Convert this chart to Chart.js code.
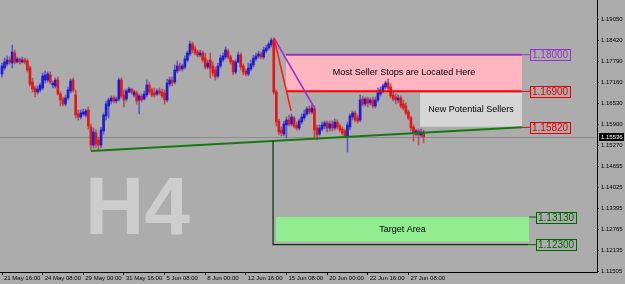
<!DOCTYPE html>
<html>
<head>
<meta charset="utf-8">
<script src="https://cdn.jsdelivr.net/npm/chart.js@4.4.1/dist/chart.umd.min.js"></script>
<style>
  html, body { margin: 0; padding: 0; background: #acacac; }
  #wrap { width: 625px; height: 284px; position: relative; }
</style>
</head>
<body>
<div id="wrap"><canvas id="c"></canvas></div>
<script>
'use strict';

// ── Data: EURUSD H4, bar index 0 = 21 May 16:00 ─────────
const xTickIdx    = [0, 16, 32, 48, 64, 80, 96, 112, 128, 144, 160];
const xTickLabels = ['21 May 16:00', '24 May 08:00', '29 May 00:00', '31 May 16:00', '5 Jun 08:00',
                     '8 Jun 00:00', '12 Jun 16:00', '15 Jun 08:00', '20 Jun 00:00', '22 Jun 16:00', '27 Jun 08:00'];
const yTicks = [1.19050, 1.18420, 1.17790, 1.17160, 1.16530, 1.15900, 1.15270,
                1.14655, 1.14025, 1.13395, 1.12765, 1.12135, 1.11505];

const opens = [
  1.1742,1.1760,1.1772,1.1784,1.1775,1.1805,1.1778,1.1787,1.1778,1.1784,
  1.1781,1.1760,1.1718,1.1700,1.1688,1.1694,1.1700,1.1724,1.1724,1.1739,
  1.1709,1.1706,1.1724,1.1682,1.1667,1.1652,1.1670,1.1691,1.1724,1.1679,
  1.1622,1.1613,1.1622,1.1619,1.1634,1.1583,1.1529,1.1565,1.1544,1.1529,
  1.1571,1.1616,1.1646,1.1661,1.1670,1.1661,1.1667,1.1724,1.1679,1.1667,
  1.1688,1.1697,1.1679,1.1685,1.1664,1.1676,1.1667,1.1679,1.1709,1.1694,
  1.1685,1.1682,1.1691,1.1688,1.1685,1.1664,1.1712,1.1724,1.1718,1.1751,
  1.1766,1.1757,1.1763,1.1784,1.1802,1.1832,1.1817,1.1808,1.1799,1.1805,
  1.1790,1.1763,1.1784,1.1766,1.1754,1.1736,1.1766,1.1784,1.1793,1.1811,
  1.1793,1.1781,1.1748,1.1778,1.1799,1.1766,1.1751,1.1742,1.1757,1.1769,
  1.1787,1.1796,1.1802,1.1793,1.1811,1.1820,1.1829,1.1844,1.1688,1.1601,
  1.1574,1.1562,1.1589,1.1604,1.1592,1.1610,1.1589,1.1580,1.1598,1.1610,
  1.1622,1.1637,1.1628,1.1637,1.1580,1.1562,1.1577,1.1586,1.1595,1.1580,
  1.1592,1.1580,1.1598,1.1586,1.1577,1.1571,1.1556,1.1583,1.1613,1.1625,
  1.1610,1.1604,1.1667,1.1652,1.1667,1.1655,1.1664,1.1646,1.1664,1.1682,
  1.1691,1.1703,1.1715,1.1703,1.1679,1.1673,1.1664,1.1670,1.1652,1.1646,
  1.1628,1.1610,1.1583,1.1562,1.1571,1.1559,1.1568
];
const highs = [
  1.1775,1.1790,1.1796,1.1793,1.1829,1.1814,1.1793,1.1790,1.1793,1.1790,
  1.1787,1.1766,1.1730,1.1706,1.1706,1.1715,1.1745,1.1751,1.1748,1.1748,
  1.1721,1.1730,1.1733,1.1688,1.1673,1.1679,1.1703,1.1727,1.1730,1.1694,
  1.1634,1.1634,1.1637,1.1637,1.1643,1.1592,1.1580,1.1574,1.1553,1.1583,
  1.1625,1.1661,1.1670,1.1676,1.1676,1.1673,1.1730,1.1730,1.1694,1.1697,
  1.1703,1.1700,1.1694,1.1691,1.1682,1.1682,1.1691,1.1724,1.1718,1.1700,
  1.1700,1.1697,1.1700,1.1697,1.1694,1.1727,1.1733,1.1733,1.1769,1.1781,
  1.1775,1.1772,1.1796,1.1811,1.1841,1.1838,1.1826,1.1814,1.1814,1.1811,
  1.1805,1.1784,1.1805,1.1778,1.1763,1.1775,1.1799,1.1805,1.1823,1.1817,
  1.1799,1.1784,1.1784,1.1808,1.1805,1.1772,1.1757,1.1775,1.1784,1.1799,
  1.1805,1.1811,1.1808,1.1823,1.1829,1.1838,1.1850,1.1850,1.1694,1.1607,
  1.1583,1.1601,1.1613,1.1619,1.1622,1.1616,1.1598,1.1607,1.1622,1.1634,
  1.1643,1.1646,1.1649,1.1646,1.1589,1.1589,1.1598,1.1601,1.1601,1.1601,
  1.1601,1.1607,1.1604,1.1592,1.1583,1.1577,1.1598,1.1622,1.1631,1.1631,
  1.1619,1.1679,1.1676,1.1673,1.1673,1.1670,1.1673,1.1673,1.1700,1.1703,
  1.1712,1.1721,1.1727,1.1712,1.1688,1.1682,1.1679,1.1676,1.1664,1.1655,
  1.1634,1.1616,1.1589,1.1577,1.1577,1.1577,1.1574
];
const lows = [
  1.1733,1.1754,1.1766,1.1772,1.1760,1.1772,1.1775,1.1772,1.1775,1.1772,
  1.1748,1.1706,1.1688,1.1673,1.1682,1.1688,1.1694,1.1715,1.1718,1.1712,
  1.1700,1.1700,1.1679,1.1646,1.1646,1.1646,1.1664,1.1685,1.1688,1.1610,
  1.1604,1.1607,1.1616,1.1613,1.1577,1.1514,1.1520,1.1520,1.1514,1.1520,
  1.1562,1.1604,1.1610,1.1652,1.1655,1.1655,1.1661,1.1670,1.1643,1.1661,
  1.1685,1.1682,1.1673,1.1652,1.1622,1.1658,1.1664,1.1673,1.1682,1.1673,
  1.1673,1.1676,1.1679,1.1670,1.1652,1.1658,1.1706,1.1706,1.1712,1.1745,
  1.1751,1.1751,1.1757,1.1778,1.1796,1.1805,1.1799,1.1793,1.1793,1.1778,
  1.1757,1.1757,1.1730,1.1736,1.1724,1.1730,1.1760,1.1778,1.1787,1.1787,
  1.1772,1.1739,1.1742,1.1775,1.1754,1.1739,1.1736,1.1736,1.1751,1.1763,
  1.1781,1.1790,1.1787,1.1787,1.1805,1.1814,1.1823,1.1682,1.1586,1.1559,
  1.1556,1.1556,1.1550,1.1586,1.1586,1.1580,1.1574,1.1574,1.1592,1.1604,
  1.1616,1.1622,1.1622,1.1550,1.1544,1.1556,1.1571,1.1577,1.1568,1.1571,
  1.1571,1.1574,1.1577,1.1568,1.1559,1.1550,1.1508,1.1574,1.1604,1.1598,
  1.1595,1.1598,1.1646,1.1646,1.1643,1.1649,1.1640,1.1640,1.1658,1.1676,
  1.1685,1.1697,1.1694,1.1670,1.1661,1.1652,1.1655,1.1640,1.1634,1.1619,
  1.1604,1.1571,1.1541,1.1556,1.1529,1.1553,1.1535
];
const closes = [
  1.1766,1.1778,1.1784,1.1778,1.1808,1.1778,1.1787,1.1778,1.1784,1.1778,
  1.1754,1.1712,1.1697,1.1688,1.1697,1.1709,1.1736,1.1739,1.1742,1.1718,
  1.1715,1.1724,1.1682,1.1664,1.1652,1.1670,1.1694,1.1721,1.1694,1.1619,
  1.1613,1.1625,1.1628,1.1631,1.1586,1.1529,1.1568,1.1532,1.1529,1.1574,
  1.1619,1.1652,1.1664,1.1670,1.1661,1.1667,1.1724,1.1676,1.1664,1.1691,
  1.1697,1.1688,1.1688,1.1661,1.1676,1.1664,1.1682,1.1709,1.1688,1.1679,
  1.1679,1.1691,1.1685,1.1676,1.1664,1.1715,1.1724,1.1715,1.1754,1.1766,
  1.1757,1.1766,1.1787,1.1805,1.1832,1.1814,1.1805,1.1799,1.1805,1.1784,
  1.1763,1.1775,1.1760,1.1745,1.1733,1.1766,1.1790,1.1796,1.1814,1.1793,
  1.1778,1.1748,1.1778,1.1799,1.1763,1.1748,1.1742,1.1760,1.1772,1.1790,
  1.1796,1.1802,1.1793,1.1814,1.1820,1.1832,1.1844,1.1688,1.1598,1.1568,
  1.1565,1.1592,1.1604,1.1592,1.1613,1.1586,1.1580,1.1601,1.1613,1.1622,
  1.1637,1.1628,1.1640,1.1574,1.1559,1.1580,1.1589,1.1595,1.1580,1.1592,
  1.1580,1.1598,1.1583,1.1574,1.1565,1.1556,1.1589,1.1616,1.1625,1.1604,
  1.1601,1.1664,1.1652,1.1667,1.1655,1.1664,1.1646,1.1664,1.1685,1.1694,
  1.1706,1.1715,1.1700,1.1676,1.1667,1.1664,1.1670,1.1646,1.1640,1.1625,
  1.1610,1.1580,1.1565,1.1571,1.1559,1.1568,1.15536
];
const lastPrice = 1.15536;

// ── Drawn objects (x = bar index, y = price) ────────────
const stopZone   = { x0: 111.8, x1: 204.7, top: 1.18000, bot: 1.16900, text: 'Most Seller Stops are Located Here' };
const sellerBox  = { x0: 164.6, x1: 204.7, top: 1.1686,  bot: 1.1584,  text: 'New Potential Sellers' };
const targetZone = { x0: 107.9, x1: 207.5, top: 1.13130, bot: 1.1239,  text: 'Target Area' };
const trendLine  = [[35.0, 1.1511], [204.7, 1.1582]];
const dropPurple = [[107.1, 1.1850], [122.8, 1.1643]];
const dropRed    = [[107.1, 1.1850], [113.8, 1.1631]];
const targetLeg  = [[106.7, 1.1541], [106.7, 1.12300], [207.1, 1.12300]];
const levelTags  = [
  { text: '1.18000', price: 1.18000, from: 204.7, at: 207.9, color: '#9932cc' },
  { text: '1.16900', price: 1.16900, from: 204.7, at: 207.9, color: '#e80000' },
  { text: '1.15820', price: 1.15820, from: 204.7, at: 207.9, color: '#e80000' },
  { text: '1.13130', price: 1.13130, from: 207.5, at: 210.2, color: '#006400' },
  { text: '1.12300', price: 1.12300, from: 207.1, at: 210.2, color: '#006400' },
];

const BULL = '#1c1cd8', BEAR = '#e01818';
const BULL_WICK = '#5c5cc8', BEAR_WICK = '#c44c4c';
const isBull = i => closes[i] >= opens[i];

// ── Overlay plugin ──────────────────────────────────────
function line(ctx, pts, color, width) {
  ctx.save();
  ctx.strokeStyle = color; ctx.lineWidth = width;
  ctx.beginPath();
  pts.forEach(([x, y], k) => (k ? ctx.lineTo(x, y) : ctx.moveTo(x, y)));
  ctx.stroke();
  ctx.restore();
}

const overlay = {
  id: 'overlay',
  beforeDatasetsDraw(chart) {
    const { ctx, chartArea: a, scales: { x, y } } = chart;
    ctx.save();
    ctx.beginPath(); ctx.rect(a.left, a.top, a.right - a.left, a.bottom - a.top); ctx.clip();

    // watermark
    ctx.fillStyle = '#cdcdcd';
    ctx.font = 'bold 82px "Liberation Sans", Arial, sans-serif';
    ctx.textBaseline = 'alphabetic';
    ctx.fillText('H4', a.left + 85, a.top + 234);

    // current price line
    const yp = Math.round(y.getPixelForValue(lastPrice)) + 0.5;
    line(ctx, [[a.left, yp], [a.right, yp]], '#8c8c8c', 1);

    // zones
    const rect = (z, fill) => {
      const x0 = x.getPixelForValue(z.x0), x1 = x.getPixelForValue(z.x1);
      const y0 = y.getPixelForValue(z.top), y1 = y.getPixelForValue(z.bot);
      ctx.fillStyle = fill;
      ctx.fillRect(x0, y0, x1 - x0, y1 - y0);
    };
    rect(stopZone, '#ffb6c1');
    rect(sellerBox, '#d6d6d6');
    rect(targetZone, '#90ee90');
    ctx.restore();
  },
  afterDatasetsDraw(chart) {
    const { ctx, scales: { x, y } } = chart;
    const P = ([i, p]) => [x.getPixelForValue(i), y.getPixelForValue(p)];

    // zone edges
    line(ctx, [[stopZone.x0, stopZone.top], [stopZone.x1, stopZone.top]].map(P), '#9932cc', 2);
    line(ctx, [[stopZone.x0, stopZone.bot], [stopZone.x1, stopZone.bot]].map(P), '#ff0000', 2);

    line(ctx, trendLine.map(P), '#137a13', 2);
    line(ctx, dropPurple.map(P), '#9932cc', 1.5);
    line(ctx, dropRed.map(P), '#ff1a1a', 1.5);
    line(ctx, targetLeg.map(P), '#0c2e0c', 1.2);

    // zone captions
    ctx.save();
    ctx.fillStyle = '#000';
    ctx.font = '9px "Liberation Sans", Arial, sans-serif';
    ctx.textAlign = 'center'; ctx.textBaseline = 'middle';
    [stopZone, sellerBox, targetZone].forEach(z => {
      const cx = (x.getPixelForValue(z.x0) + x.getPixelForValue(z.x1)) / 2;
      const cy = (y.getPixelForValue(z.top) + y.getPixelForValue(z.bot)) / 2;
      ctx.fillText(z.text, cx, cy);
    });
    ctx.restore();

    // level tags
    ctx.save();
    ctx.font = '10px "Liberation Sans", Arial, sans-serif';
    ctx.textBaseline = 'middle'; ctx.textAlign = 'left';
    levelTags.forEach(t => {
      const yp = y.getPixelForValue(t.price);
      const xf = x.getPixelForValue(t.from), xb = Math.round(x.getPixelForValue(t.at));
      line(ctx, [[xf, yp], [xb, yp]], t.color, 1);
      const w = Math.ceil(ctx.measureText(t.text).width) + 3, h = 11;
      const top = Math.round(yp - h / 2);
      ctx.strokeStyle = t.color; ctx.lineWidth = 1;
      ctx.strokeRect(xb + 0.5, top + 0.5, w, h);
      ctx.fillStyle = t.color;
      ctx.fillText(t.text, xb + 2, top + h / 2 + 1);
    });
    ctx.restore();
  },
  afterDraw(chart) {
    const { ctx, chartArea: a, scales: { y } } = chart;
    const yp = Math.round(y.getPixelForValue(lastPrice));
    ctx.save();
    ctx.fillStyle = '#000';
    ctx.fillRect(a.right + 2, yp - 4, 25, 8);
    ctx.fillStyle = '#fff';
    ctx.font = '6px "Liberation Sans", Arial, sans-serif';
    ctx.textBaseline = 'middle';
    ctx.fillText(lastPrice.toFixed(5), a.right + 4, yp + 0.5);
    ctx.restore();
  }
};

// ── Chart ───────────────────────────────────────────────
Chart.defaults.font.family = '"Liberation Sans", Arial, sans-serif';

const bodies = opens.map((o, i) => ({ x: i, y: [o, closes[i]] }));
const wicks  = lows.map((l, i) => ({ x: i, y: [l, highs[i]] }));

new Chart(document.getElementById('c'), {
  type: 'bar',
  data: {
    datasets: [
      {
        label: 'body', data: bodies, order: 0,
        barThickness: 2, minBarLength: 1, grouped: false, borderWidth: 0,
        backgroundColor: ctx => (isBull(ctx.dataIndex) ? BULL : BEAR),
      },
      {
        label: 'wick', data: wicks, order: 1,
        barThickness: 1, grouped: false, borderWidth: 0,
        backgroundColor: ctx => (isBull(ctx.dataIndex) ? BULL_WICK : BEAR_WICK),
      },
    ],
  },
  options: {
    responsive: true,
    maintainAspectRatio: false,
    animation: false,
    events: [],
    layout: { padding: 0 },
    plugins: { legend: { display: false }, tooltip: { enabled: false } },
    scales: {
      x: {
        type: 'linear', min: -0.79, max: 234.25, offset: false,
        afterBuildTicks: s => { s.ticks = xTickIdx.map(v => ({ value: v })); },
        afterFit: s => { s.height = 12; s.paddingLeft = 0; s.paddingRight = 0; },
        ticks: {
          autoSkip: false, maxRotation: 0, align: 'start', padding: 0, labelOffset: 2,
          color: '#000', font: { size: 6 },
          callback: v => xTickLabels[xTickIdx.indexOf(v)] ?? '',
        },
        grid: { offset: false, drawOnChartArea: false, tickLength: 3, color: '#000' },
        border: { color: '#000' },
      },
      y: {
        type: 'linear', position: 'right', min: 1.1148, max: 1.1964,
        afterBuildTicks: s => { s.ticks = yTicks.map(v => ({ value: v })); },
        afterFit: s => { s.width = 28; s.paddingTop = 0; s.paddingBottom = 0; },
        ticks: {
          autoSkip: false, padding: 2, color: '#000', font: { size: 6 },
          callback: v => v.toFixed(5),
        },
        grid: { drawOnChartArea: false, tickLength: 2, color: '#000' },
        border: { color: '#000' },
      },
    },
  },
  plugins: [overlay],
});
</script>
</body>
</html>
